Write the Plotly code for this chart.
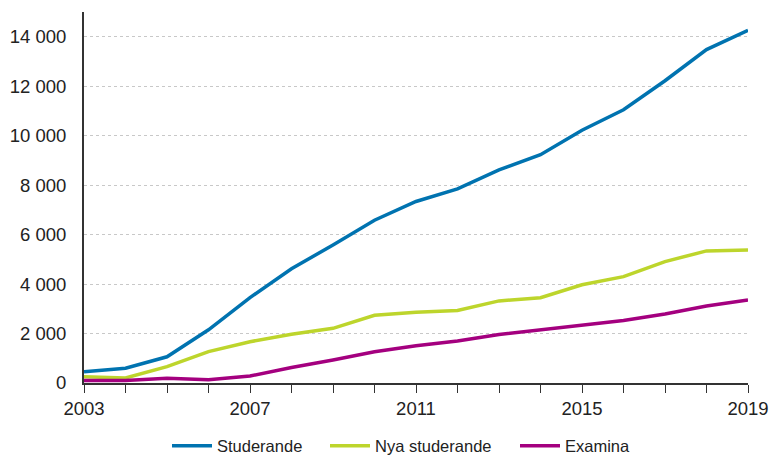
import plotly.graph_objects as go

years = list(range(2003, 2020))
studerande = [450, 600, 1060, 2150, 3450, 4620, 5580, 6580, 7340, 7850, 8620, 9230, 10220, 11050, 12220, 13480, 14260]
nya_studerande = [250, 200, 660, 1270, 1670, 1970, 2210, 2740, 2860, 2930, 3320, 3450, 3970, 4300, 4910, 5340, 5380]
examina = [100, 100, 190, 130, 280, 630, 930, 1260, 1510, 1700, 1960, 2150, 2350, 2530, 2790, 3110, 3360]

series = [
    ("Studerande", studerande, "#0073b0", "legend"),
    ("Nya studerande", nya_studerande, "#bdd52c", "legend2"),
    ("Examina", examina, "#a4007f", "legend3"),
]

W, H = 773, 457
legend_left = {"legend": 167, "legend2": 325, "legend3": 515}

fig = go.Figure()
for name, vals, col, lg in series:
    fig.add_trace(go.Scatter(x=years, y=vals, name=name, mode="lines",
                             line=dict(color=col, width=3.5), legend=lg))

def legend_cfg(key):
    return dict(orientation="h", x=legend_left[key] / W, xanchor="left", xref="container",
                y=1 - 446 / H, yanchor="middle", yref="container",
                font=dict(size=16.5, color="#222222"), itemwidth=40,
                bgcolor="rgba(0,0,0,0)")

fig.update_layout(
    width=W, height=H,
    margin=dict(l=84, r=25, t=12, b=74),
    paper_bgcolor="white", plot_bgcolor="white",
    font=dict(family="Liberation Sans, Arial, sans-serif", size=18, color="#222222"),
    showlegend=True,
    legend=legend_cfg("legend"),
    legend2=legend_cfg("legend2"),
    legend3=legend_cfg("legend3"),
    xaxis=dict(
        range=[2003, 2019], tickmode="array",
        tickvals=years,
        ticktext=[str(y) if (y - 2003) % 4 == 0 else "" for y in years],
        ticks="outside", ticklen=8, tickcolor="#333333", tickwidth=1,
        showline=True, linecolor="#333333", linewidth=1.5,
        showgrid=False, zeroline=False, automargin=False,
        tickfont=dict(size=18.5),
    ),
    yaxis=dict(
        range=[0, 15000], tickvals=[0, 2000, 4000, 6000, 8000, 10000, 12000, 14000],
        ticktext=["0", "2 000", "4 000", "6 000", "8 000", "10 000", "12 000", "14 000"],
        showline=True, linecolor="#333333", linewidth=2,
        showgrid=True, gridcolor="#c8c8c8", griddash="dot", gridwidth=1,
        zeroline=False, ticks="", ticklabelstandoff=12, automargin=False,
        tickfont=dict(size=18.5),
    ),
)

fig.write_html(
    "out.html",
    config={"displayModeBar": False},
    post_script="document.body.style.margin='0';document.documentElement.style.overflow='hidden';",
)
